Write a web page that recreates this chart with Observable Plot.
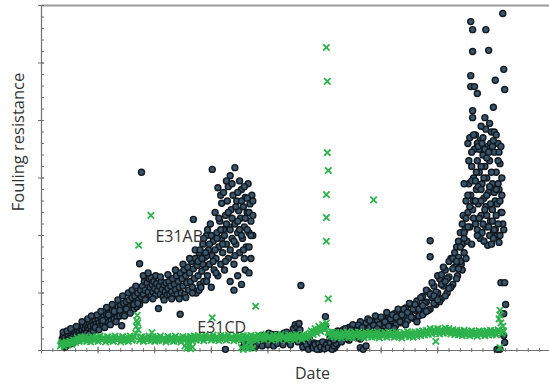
<!DOCTYPE html>
<html><head><meta charset="utf-8">
<script src="https://cdn.jsdelivr.net/npm/d3@7"></script>
<script src="https://cdn.jsdelivr.net/npm/@observablehq/plot@0.6"></script>
<style>body{margin:0;background:#fff;}</style>
</head><body><div id="chart"></div>
<script>
// E31AB fouling resistance: [day, value]
const e31ab = [
[22,0.12],[22,0.2],[23,0.26],[24,0.15],[25,0.22],[26,0.1],[27,0.18],[28,0.27],[29,0.2],[30,0.14],[31,0.24],[32,0.3],[33,0.19],[34,0.26],[35,0.33],[36,0.22],[37,0.29],[38,0.36],[39,0.25],[40,0.32],[41,0.4],[42,0.28],[43,0.35],[44,0.42],[45,0.3],[46,0.38],[47,0.45],[48,0.33],[49,0.4],[50,0.36],[51,0.47],[52,0.42],[53,0.34],[54,0.5],[55,0.44],[56,0.38],[57,0.52],[58,0.46],[59,0.4],[60,0.55],[61,0.48],[62,0.42],[63,0.58],[64,0.5],[65,0.45],[66,0.6],[67,0.53],[68,0.47],[69,0.63],[70,0.56],[71,0.49],[72,0.66],[73,0.58],[74,0.52],[75,0.7],[76,0.61],[77,0.55],[78,0.73],[79,0.64],[80,0.57],[81,0.76],[82,0.66],[83,0.6],[84,0.79],[85,0.43],[85,0.69],[86,0.62],[87,0.82],[88,0.71],[89,0.65],[90,0.85],[91,0.74],[92,0.67],[93,0.88],[94,0.77],[95,0.7],[96,0.92],[97,0.8],[98,0.72],[99,0.95],[100,0.84],[101,0.76],[102,1.0],[103,0.88],[104,1.51],[104,0.8],[105,1.05],[106,3.1],[106,0.93],[107,1.12],[108,0.98],[109,1.2],[110,1.05],[111,0.9],[112,1.18],[113,1.02],[114,1.25],[115,1.1],[116,1.27],[116,0.95],[117,1.15],[118,1.02],[119,1.2],[120,1.08],[121,0.96],[122,1.16],[123,1.04],[124,0.73],[125,1.12],[126,0.98],[127,1.2],[128,1.06],[129,0.93],[130,1.14],[131,1.02],[132,1.18],[133,0.96],[134,1.08],[135,1.2],[136,0.98],[137,1.12],[138,1.02],[139,1.25],[140,0.95],[141,1.15],[142,1.06],[143,1.3],[144,0.98],[145,1.2],[146,1.1],[147,0.63],[147,1.35],[148,1.0],[149,1.25],[150,1.12],[151,1.4],[152,0.98],[153,1.3],[154,1.18],[155,1.45],[156,1.05],[157,1.35],[158,1.2],[159,1.55],[160,1.1],[161,2.28],[161,1.42],[162,1.25],[163,1.6],[164,1.0],[165,1.48],[166,1.3],[167,1.7],[168,1.15],[169,1.55],[170,1.38],[171,1.85],[172,1.2],[173,1.62],[174,1.45],[175,2.0],[176,1.3],[177,1.75],[178,1.5],[179,2.2],[180,1.1],[181,3.15],[181,1.65],[182,1.9],[183,1.4],[184,2.4],[185,1.6],[186,2.05],[187,2.83],[187,1.3],[188,1.8],[189,2.25],[190,1.5],[191,2.56],[191,1.95],[192,1.7],[193,2.1],[194,1.4],[195,2.35],[196,1.85],[197,2.6],[198,1.6],[199,2.15],[200,3.04],[200,1.75],[201,2.45],[202,1.95],[203,2.7],[204,1.5],[205,3.18],[205,2.2],[206,1.85],[207,2.6],[208,2.05],[209,2.43],[210,1.7],[211,2.3],[212,2.8],[213,1.95],[214,2.5],[215,2.15],[216,2.66],[217,1.8],[218,2.4],[219,2.9],[220,2.05],[221,2.55],[222,1.6],[222,2.25],[223,2.7],[224,2.0],
[23,0.32],[25,0.06],[27,0.34],[29,0.1],[31,0.38],[33,0.12],[35,0.2],[37,0.42],[39,0.18],[41,0.26],[43,0.5],[45,0.22],[47,0.3],[49,0.55],[51,0.29],[53,0.6],[55,0.33],[57,0.4],[59,0.62],[61,0.36],[63,0.68],[65,0.52],[67,0.4],[69,0.75],[71,0.62],[73,0.45],[75,0.8],[77,0.68],[79,0.5],[81,0.88],[83,0.7],[86,0.95],[88,0.6],[90,0.72],[92,1.0],[94,0.65],[96,1.05],[98,0.8],[100,1.12],[102,0.82],[108,1.3],[110,0.88],[113,1.35],[118,0.9],[121,1.3],[126,1.28],[130,0.88],[134,1.32],[138,0.9],[142,1.4],[146,0.9],[150,1.5],[153,0.92],[157,1.6],[160,1.0],[163,1.75],[167,1.05],[171,1.5],[175,1.65],
[166,1.55],[168,1.75],[170,1.6],[172,1.95],[174,1.7],[176,2.1],[178,1.85],[180,2.0],[182,1.55],[184,1.75],[186,1.95],[188,2.3],[190,2.1],[192,1.85],[194,2.0],[196,2.2],[198,2.4],[200,2.1],[202,2.3],[204,1.9],[206,2.5],[208,2.25],[210,2.1],[212,2.0],[214,1.75],[216,2.3],[218,2.1],[220,2.4],[222,2.0],[224,2.35],[169,1.1],[175,1.2],[185,1.35],[195,1.55],[205,1.65],[215,1.6],[220,1.8],[190,2.7],[198,2.85],[210,2.95],[215,2.85],[202,2.9],[208,2.75],[212,2.6],[218,2.65],[224,2.6],[196,2.95],[193,2.75],
[200,1.2],[204,1.05],[208,1.3],[212,1.15],[216,1.4],[220,1.35],
[195,0.02],[214,0.06],[216,0.12],[218,0.17],[220,0.08],[222,0.14],[224,0.05],[226,0.1],[229,0.2],[231,0.14],[233,0.26],[235,0.18],[237,0.12],[239,0.24],[241,0.3],[243,0.16],[245,0.22],[247,0.13],[249,0.28],[251,0.2],[253,0.15],[255,0.25],[257,0.3],[259,0.17],[261,0.23],[263,0.14],[265,0.27],[267,0.38],[268,0.2],[269,0.45],[271,0.4],[272,0.15],[273,0.47],[275,1.13],[276,0.18],[278,0.08],[280,0.14],[282,0.05],[284,0.2],[286,0.1],[301,0.59],[301,0.43],
[215,0.15],[219,0.1],[223,0.18],[227,0.07],[230,0.12],[234,0.08],[236,0.25],[240,0.1],[244,0.28],[246,0.08],[250,0.12],[252,0.26],[256,0.1],[258,0.22],[260,0.32],[262,0.2],[264,0.1],[266,0.22],[270,0.3],[274,0.36],[277,0.06],[279,0.2],[281,0.1],[283,0.02],[285,0.15],[287,0.06],[289,0.13],[291,0.04],[293,0.08],[295,0.02],[297,0.1],[299,0.06],[303,0.14],[305,0.06],[307,0.1],[309,0.03],[311,0.05],[313,0.1],
[288,0.05],[290,0.1],[292,0.02],[294,0.12],[296,0.06],[298,0.15],[300,0.03],[302,0.1],[304,0.05],[306,0.14],[308,0.02],[310,0.08],[312,0.12],[338,0.05],[341,0.02],[344,0.08],
[306,0.22],[308,0.3],[310,0.18],[312,0.26],[314,0.34],[316,0.2],[318,0.28],[320,0.36],[322,0.22],[324,0.3],[326,0.4],[328,0.25],[330,0.33],[332,0.42],[334,0.28],[336,0.36],[338,0.2],[339,0.45],[340,0.3],[342,0.38],[344,0.48],[346,0.32],[348,0.4],[350,0.5],[352,0.34],[354,0.43],[356,0.53],[358,0.36],[359,0.28],[360,0.46],[362,0.56],[364,0.4],[366,0.48],[368,0.6],[370,0.42],[372,0.52],[374,0.64],[376,0.45],[378,0.55],[380,0.68],[382,0.48],[384,0.6],[386,0.74],[388,0.52],[390,0.65],[392,0.8],[394,0.56],[396,0.7],[398,0.86],[400,0.6],[402,0.76],[404,0.94],[406,0.66],[408,0.84],[410,1.02],[412,0.72],[412,1.91],[412,1.63],[414,0.92],[416,1.12],[418,0.8],[420,1.0],[422,1.25],[424,0.9],[426,1.12],[428,1.4],[430,1.0],[432,1.28],[434,1.6],[436,1.15],[438,1.45],[440,1.8],[441,1.3],[442,1.62],[444,2.05],[445,1.5],[446,1.85],[447,2.35],[448,1.7],[449,2.1],[450,2.6],[451,1.9],[452,2.4],[453,2.9],[454,3.7],[454,2.15],[455,5.72],[455,2.7],[456,3.2],[457,5.58],[457,5.2],[457,4.17],[457,4.05],[457,2.45],[458,3.0],[459,3.5],[460,2.2],[461,2.8],[462,3.3],[463,2.55],[464,3.1],[465,3.65],[466,2.35],[467,2.9],[468,3.4],[469,2.65],[470,4.05],[470,3.2],[471,5.58],[471,2.5],[472,3.0],[473,3.55],[473,1.83],[474,5.22],[474,2.75],[475,3.3],[476,2.25],[477,3.8],[478,2.9],[479,4.23],[479,2.05],[480,3.45],[481,4.7],[481,2.6],[482,3.1],[483,2.0],[484,3.6],[485,1.88],[485,2.8],[486,3.25],[487,1.18],[487,2.4],[488,3.0],[489,5.86],[489,2.2],[490,4.89],[490,0.64],[491,4.54],[491,1.18],[492,0.8],[490,0.26],[491,0.14],[483,0.02],[486,0.02],
[455,4.78],[455,4.59],[459,4.59],[462,4.47],[452,3.6],[456,3.45],[460,3.75],[464,3.5],[468,3.7],[472,3.35],[476,3.6],[480,3.8],[484,3.3],[478,3.55],[466,3.2],[462,3.6],
[462,2.1],[465,1.95],[467,2.05],[469,1.9],[471,2.15],[475,2.0],[477,1.85],[479,1.95],[481,2.1],
[448,2.9],[452,2.7],[456,2.95],[458,2.6],[460,2.95],[463,2.85],[466,2.6],[469,3.0],[472,2.35],[475,2.85],[478,2.45],[480,2.75],[483,2.55],[484,2.9],[486,2.6],[488,2.7],[482,2.35],
[318,0.15],[322,0.38],[326,0.18],[330,0.45],[334,0.22],[338,0.5],[342,0.25],[346,0.55],[350,0.28],[354,0.6],[358,0.45],[362,0.33],[366,0.66],[370,0.55],[374,0.38],[378,0.72],[382,0.62],[386,0.45],[390,0.82],[394,0.72],[398,0.5],[402,0.92],[404,0.62],[406,0.82],[408,1.05],[410,0.7],[414,1.18],[416,0.82],[418,1.02],[420,1.3],[422,0.85],[424,1.15],[426,1.45],[428,0.95],[430,1.25],[432,1.55],[434,1.1],[436,1.42],[438,1.7],[440,1.25],[442,1.9],[444,1.55],[446,2.2],[448,1.95],[450,1.6],[452,2.15],[454,2.5],[456,1.85],[458,2.3],[460,2.6],[462,2.0],[464,2.3],[466,2.8],[468,2.2],[470,2.45],[472,2.7],[474,2.15],[476,2.55],[478,2.25],[480,2.1],[482,2.8],[484,2.2],[486,2.0],[488,2.4],[490,2.1],
[453,3.3],[458,3.75],[461,3.1],[463,3.55],[467,3.6],[470,3.5],[474,3.45],[477,3.1],[479,3.65],[482,3.75],[485,3.45],[487,3.55],[471,3.85],[466,3.9],[475,3.95],
[320,0.26],[324,0.2],[328,0.36],[332,0.24],[336,0.44],[340,0.4],[344,0.3],[348,0.52],[352,0.44],[356,0.38],[360,0.58],[364,0.5],[368,0.42],[372,0.62],[376,0.58],[380,0.5],[384,0.72],[388,0.66],[392,0.58],[396,0.8],[400,0.72],[404,0.78],[408,0.68],[412,0.98],[416,0.95],[420,0.88],[424,1.32],[428,1.2],[432,1.08],[436,1.6],[440,1.55],[444,1.8],[448,2.05],[450,2.3],[446,1.4],[442,1.42]
];

// E31CD fouling resistance: [day, value]
const e31cd = [
[20,0.08],[22,0.14],[24,0.07],[26,0.15],[28,0.1],[30,0.16],[32,0.11],[34,0.18],[36,0.14],[38,0.22],[40,0.16],[42,0.23],[44,0.17],[46,0.24],[48,0.16],[50,0.22],[52,0.15],[54,0.24],[56,0.17],[58,0.23],[60,0.16],[62,0.25],[64,0.18],[66,0.23],[68,0.15],[70,0.24],[72,0.17],[74,0.22],[76,0.16],[78,0.25],[80,0.18],[82,0.23],[84,0.15],[86,0.24],[88,0.17],[90,0.22],[92,0.16],[94,0.25],[96,0.18],[98,0.24],
[100,0.3],[100.5,0.42],[101,0.52],[101.5,0.61],[102,0.48],[102.5,0.36],[103,1.83],
[104,0.17],[106,0.24],[108,0.16],[110,0.23],[112,0.18],[114,0.25],[116,2.35],[116,0.17],[117,0.31],[118,0.24],[120,0.16],[122,0.23],[124,0.18],[126,0.25],[128,0.17],[130,0.22],[132,0.15],[134,0.24],[136,0.18],[138,0.23],[140,0.16],[142,0.25],[144,0.17],[146,0.22],[148,0.15],[150,0.24],[152,0.08],[152,0.18],[154,0.04],[154,0.23],[156,0.1],[156,0.16],[158,0.03],[158,0.24],[160,0.06],[160,0.17],[162,0.25],[164,0.18],[166,0.26],[168,0.19],[170,0.24],[172,0.17],[174,0.27],[176,0.2],[178,0.25],[180,0.18],[181,0.57],[182,0.27],[184,0.19],[186,0.24],[188,0.17],[190,0.26],[192,0.2],[194,0.25],[196,0.18],[198,0.27],[200,0.2],[202,0.24],[204,0.17],[206,0.26],[208,0.19],[210,0.25],[212,0.05],[212,0.18],[214,0.02],[214,0.26],[216,0.08],[216,0.2],[218,0.03],[218,0.25],[220,0.06],[220,0.17],[222,0.1],[222,0.26],[224,0.04],[224,0.19],[226,0.25],[227,0.77],[228,0.18],[230,0.27],[232,0.2],[234,0.26],[236,0.19],[238,0.28],[240,0.21],[242,0.25],[244,0.18],[246,0.27],[248,0.2],[250,0.26],[252,0.19],[254,0.28],[256,0.21],[258,0.25],[260,0.18],[262,0.27],[264,0.2],[266,0.26],[268,0.19],[270,0.28],[272,0.21],[274,0.25],[276,0.19],[278,0.28],[280,0.22],[282,0.27],[284,0.24],[286,0.34],[288,0.28],[290,0.38],[292,0.3],[294,0.42],[296,0.33],[298,0.45],[300,0.36],[302,0.48],[304,0.9],[304,0.32],
[302,5.27],[303,4.68],[303,3.44],[304,3.13],[302,2.71],[302,2.31],[302,1.9],
[306,0.25],[308,0.32],[310,0.24],[312,0.31],[314,0.23],[316,0.3],[318,0.22],[320,0.31],[322,0.24],[324,0.32],[326,0.23],[328,0.3],[330,0.22],[332,0.31],[334,0.25],[336,0.32],[338,0.23],[340,0.3],[342,0.22],[344,0.31],[346,0.24],[348,0.32],[350,0.23],[352,2.62],[352,0.3],[354,0.24],[356,0.32],[358,0.22],[360,0.3],[362,0.24],[364,0.31],[366,0.23],[368,0.32],[370,0.25],[372,0.31],[374,0.23],[376,0.32],[378,0.24],[380,0.3],[382,0.22],[384,0.31],[386,0.25],[388,0.33],[390,0.24],[392,0.31],[394,0.23],[396,0.32],[398,0.25],[400,0.33],[402,0.26],[404,0.34],[406,0.27],[408,0.35],[410,0.28],[412,0.38],[414,0.29],[416,0.37],[418,0.3],[418,0.16],[420,0.38],[422,0.29],[424,0.37],[426,0.3],[428,0.39],[430,0.31],[432,0.38],[434,0.29],[436,0.36],[438,0.28],[440,0.35],[442,0.27],[444,0.34],[446,0.26],[448,0.35],[450,0.27],[452,0.33],[454,0.26],[456,0.34],[458,0.27],[460,0.33],[462,0.25],[464,0.34],[466,0.27],[468,0.33],[470,0.26],[472,0.34],[474,0.27],[476,0.35],[478,0.28],[480,0.34],[482,0.27],[484,0.36],[485,0.55],[486,0.62],[486,0.7],[487,0.48],[488,0.3],[489,0.42],[490,0.33],[486,0.05],
[21,0.11],[25,0.12],[29,0.13],[33,0.14],[37,0.18],[41,0.2],[45,0.21],[49,0.19],[53,0.2],[57,0.2],[61,0.21],[65,0.2],[69,0.19],[73,0.2],[77,0.21],[81,0.2],[85,0.19],[89,0.2],[93,0.21],[97,0.2],[105,0.2],[109,0.21],[113,0.2],[117,0.2],[121,0.19],[125,0.21],[129,0.2],[133,0.19],[137,0.21],[141,0.2],[145,0.19],[149,0.2],[153,0.21],[157,0.2],[161,0.21],[165,0.22],[169,0.21],[173,0.23],[177,0.22],[181,0.21],[185,0.22],[189,0.21],[193,0.23],[197,0.22],[201,0.22],[205,0.21],[209,0.22],[213,0.22],[217,0.23],[221,0.22],[225,0.21],[229,0.23],[233,0.23],[237,0.24],[241,0.23],[245,0.22],[249,0.23],[253,0.24],[257,0.23],[261,0.22],[265,0.23],[269,0.24],[273,0.23],[277,0.24],[281,0.25],[285,0.3],[289,0.33],[293,0.36],[297,0.39],[301,0.42],[305,0.3],[309,0.28],[313,0.27],[317,0.26],[321,0.27],[325,0.28],[329,0.26],[333,0.27],[337,0.28],[341,0.26],[345,0.27],[349,0.28],[353,0.27],[357,0.26],[361,0.27],[365,0.28],[369,0.27],[373,0.28],[377,0.27],[381,0.26],[385,0.28],[389,0.29],[393,0.27],[397,0.28],[401,0.29],[405,0.3],[409,0.31],[413,0.33],[417,0.34],[421,0.33],[425,0.34],[429,0.35],[433,0.33],[437,0.32],[441,0.31],[445,0.3],[449,0.31],[453,0.3],[457,0.3],[461,0.29],[465,0.31],[469,0.3],[473,0.31],[477,0.31],[481,0.3],[485,0.32],[489,0.35]
];

const seriesLabels = ["E31AB", "E31CD"];
const labelDays = [146, 191];
const labelValues = [1.97, 0.40];
const xMajorTicks = [0, 60, 120, 180, 240, 300, 360, 420, 480];
const xMinorTicks = d3.range(0, 539, 12);
const yMajorTicks = [0, 1, 2, 3, 4, 5, 6];
const yMinorTicks = d3.range(0, 6.01, 0.2);
const xTitle = "Date";
const yTitle = "Fouling resistance";

const axisColor = "#707070";
const chart = Plot.plot({
  width: 549, height: 387,
  marginLeft: 41, marginRight: 0, marginTop: 5, marginBottom: 37,
  x: {domain: [0, 538.5]},
  y: {domain: [0, 6]},
  style: {fontFamily: "Open Sans, sans-serif", background: "#fff"},
  marks: [
    Plot.ruleY([6], {stroke: "#9a9a9a", strokeWidth: 2}),
    Plot.ruleX([0], {stroke: axisColor, strokeWidth: 1.2}),
    Plot.ruleY([0], {stroke: axisColor, strokeWidth: 1.2}),
    Plot.axisX({ticks: xMinorTicks, tickSize: 4, insetBottom: 2, tickFormat: () => "", label: null, stroke: axisColor}),
    Plot.axisX({ticks: xMajorTicks, tickSize: 7, insetBottom: 3.5, tickFormat: () => "", label: null, stroke: axisColor}),
    Plot.axisY({ticks: yMinorTicks, tickSize: 3, insetLeft: 3, tickFormat: () => "", label: null, stroke: axisColor}),
    Plot.axisY({ticks: yMajorTicks, tickSize: 6, insetLeft: 3, tickFormat: () => "", label: null, stroke: axisColor}),
    Plot.dot(e31ab, {x: d => d[0], y: d => d[1], r: 3, fill: "#3b5468", stroke: "#111920", strokeWidth: 1.4}),
    Plot.dot(e31cd, {x: d => d[0], y: d => d[1], symbol: "times", r: 3, stroke: "#2db24c", strokeWidth: 1.8}),
    Plot.text(seriesLabels, {x: (d, i) => labelDays[i], y: (d, i) => labelValues[i], text: d => d, fontSize: 16, fill: "#333"}),
    Plot.text([xTitle], {frameAnchor: "bottom", textAnchor: "middle", dx: 17, dy: 28, fontSize: 16, fill: "#333"}),
    Plot.text([yTitle], {frameAnchor: "left", textAnchor: "middle", rotate: -90, dx: -23, dy: -36, fontSize: 16.5, fill: "#333"})
  ]
});
document.getElementById("chart").appendChild(chart);
</script>
</body></html>
